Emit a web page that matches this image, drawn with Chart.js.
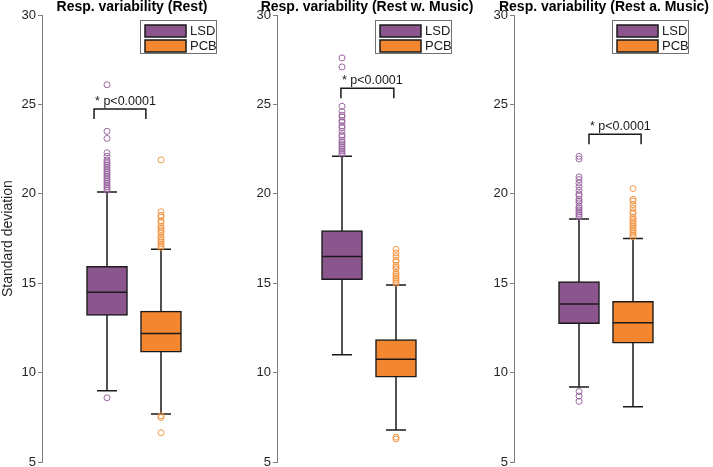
<!DOCTYPE html>
<html>
<head>
<meta charset="utf-8">
<script src="https://cdn.jsdelivr.net/npm/chart.js@4.4.0/dist/chart.umd.min.js"></script>
<style>
  html, body { margin: 0; padding: 0; background: #fff; overflow: hidden; width: 713px; height: 467px; }
  .panel { position: absolute; top: 0; width: 264px; height: 472px; }
</style>
</head>
<body>
<div class="panel" style="left:0px"><canvas id="panel0" width="264" height="472"></canvas></div>
<div class="panel" style="left:235px"><canvas id="panel1" width="264" height="472"></canvas></div>
<div class="panel" style="left:472px"><canvas id="panel2" width="264" height="472"></canvas></div>
<script>
// Groups and panel titles
const groups = ['LSD', 'PCB'];
const titles = ['Resp. variability (Rest)', 'Resp. variability (Rest w. Music)', 'Resp. variability (Rest a. Music)'];
const yTicks = [5, 10, 15, 20, 25, 30];

// Box statistics per panel: [LSD, PCB]
const q1 = [[13.2, 11.15], [15.2, 9.75], [12.75, 11.65]];
const medians = [[14.5, 12.2], [16.5, 10.75], [13.85, 12.8]];
const q3 = [[15.95, 13.45], [17.95, 11.85], [15.1, 14.0]];
const whiskerLow = [[9.0, 7.7], [11.0, 6.8], [9.2, 8.1]];
const whiskerHigh = [[20.1, 16.9], [22.1, 14.9], [18.6, 17.5]];

// Outliers per panel
const outliersLSD = [
    [26.1, 23.5, 23.1, 22.3, 22.1, 21.9, 21.8, 21.7, 21.6, 21.5, 21.4, 21.3, 21.2, 21.1, 21.0, 20.9, 20.8, 20.7, 20.6, 20.5, 20.4, 20.3, 20.2, 8.6],
    [27.6, 27.1, 24.9, 24.6, 24.4, 24.3, 24.1, 24.0, 23.8, 23.7, 23.5, 23.3, 23.2, 23.0, 22.9, 22.8, 22.7, 22.6, 22.5, 22.4, 22.3, 22.2],
    [22.1, 21.95, 20.95, 20.8, 20.6, 20.4, 20.2, 20.0, 19.9, 19.7, 19.6, 19.5, 19.3, 19.2, 19.1, 19.0, 18.9, 18.8, 18.7, 8.95, 8.7, 8.4]
];
const outliersPCB = [
    [21.9, 19.0, 18.8, 18.7, 18.5, 18.4, 18.2, 18.1, 18.0, 17.9, 17.8, 17.6, 17.5, 17.4, 17.3, 17.2, 17.1, 17.0, 7.6, 7.5, 6.65],
    [16.9, 16.7, 16.5, 16.3, 16.2, 16.0, 15.9, 15.8, 15.6, 15.5, 15.4, 15.3, 15.2, 15.1, 15.0, 6.4, 6.3],
    [20.3, 19.7, 19.6, 19.4, 19.2, 19.0, 18.9, 18.7, 18.6, 18.5, 18.4, 18.3, 18.2, 18.1, 18.0, 17.9, 17.8, 17.7, 17.6]
];

// Significance brackets
const pLabel = '* p<0.0001';
const bracketFrom = [0.76, 0.98, 1.185];
const bracketTo = [1.72, 1.96, 2.15];
const bracketY = [24.74, 25.9, 23.33];

const boxColors = ['#8b558e', '#f2872f'];
const dotColors = ['#9c68a1', '#f39848'];
const ink = '#1a1a1a';
const font = '"Liberation Sans", Arial, sans-serif';

function boxExtras(p) {
    return {
        id: 'boxExtras',
        beforeDatasetsDraw(chart) {
            const ctx = chart.ctx, x = chart.scales.x, y = chart.scales.y;
            ctx.save();
            ctx.strokeStyle = ink;
            ctx.lineWidth = 1.5;
            groups.forEach((g, k) => {
                const px = x.getPixelForValue(k + 1);
                ctx.beginPath();
                ctx.moveTo(px, y.getPixelForValue(whiskerLow[p][k]));
                ctx.lineTo(px, y.getPixelForValue(whiskerHigh[p][k]));
                [whiskerLow[p][k], whiskerHigh[p][k]].forEach(v => {
                    const py = y.getPixelForValue(v);
                    ctx.moveTo(px - 10, py);
                    ctx.lineTo(px + 10, py);
                });
                ctx.stroke();
            });
            ctx.restore();
        },
        afterDatasetsDraw(chart) {
            const ctx = chart.ctx, x = chart.scales.x, y = chart.scales.y, area = chart.chartArea;
            ctx.save();
            ctx.strokeStyle = ink;
            ctx.lineWidth = 1.5;
            // medians
            groups.forEach((g, k) => {
                const px = x.getPixelForValue(k + 1);
                const py = y.getPixelForValue(medians[p][k]);
                ctx.beginPath();
                ctx.moveTo(px - 20, py);
                ctx.lineTo(px + 20, py);
                ctx.stroke();
            });
            // bracket
            const bx1 = x.getPixelForValue(bracketFrom[p]);
            const bx2 = x.getPixelForValue(bracketTo[p]);
            const by = y.getPixelForValue(bracketY[p]);
            ctx.beginPath();
            ctx.moveTo(bx1, by + 10);
            ctx.lineTo(bx1, by);
            ctx.lineTo(bx2, by);
            ctx.lineTo(bx2, by + 10);
            ctx.stroke();
            ctx.fillStyle = ink;
            ctx.font = '12.5px ' + font;
            ctx.textAlign = 'left';
            ctx.textBaseline = 'alphabetic';
            ctx.fillText(pLabel, bx1 + 1, by - 4);
            // legend
            const lw = 76, lh = 33;
            const lx = area.right - 6 - lw, ly = area.top + 5;
            ctx.fillStyle = '#fff';
            ctx.fillRect(lx, ly, lw, lh);
            ctx.strokeStyle = '#707070';
            ctx.lineWidth = 1;
            ctx.strokeRect(lx + 0.5, ly + 0.5, lw, lh);
            groups.forEach((g, k) => {
                const sy = ly + 5 + k * 15;
                ctx.fillStyle = boxColors[k];
                ctx.fillRect(lx + 5, sy, 41, 12);
                ctx.strokeStyle = ink;
                ctx.lineWidth = 1.5;
                ctx.strokeRect(lx + 5, sy, 41, 12);
                ctx.fillStyle = ink;
                ctx.font = '13px ' + font;
                ctx.textBaseline = 'middle';
                ctx.fillText(g, lx + 50, sy + 6.5);
            });
            // panel title
            ctx.fillStyle = '#000';
            ctx.font = 'bold 14px ' + font;
            ctx.textAlign = 'center';
            ctx.textBaseline = 'middle';
            ctx.fillText(titles[p], (area.left + area.right) / 2, 7);
            ctx.restore();
        }
    };
}

function makePanel(p) {
    const datasets = [];
    groups.forEach((g, k) => {
        datasets.push({
            type: 'bar',
            label: g,
            data: [{ x: k + 1, y: [q1[p][k], q3[p][k]] }],
            backgroundColor: boxColors[k],
            borderColor: ink,
            borderWidth: 1.5,
            borderSkipped: false,
            barThickness: 41,
            grouped: false
        });
    });
    [outliersLSD[p], outliersPCB[p]].forEach((list, k) => {
        datasets.push({
            type: 'scatter',
            label: groups[k] + ' outliers',
            data: list.map(v => ({ x: k + 1, y: v })),
            pointRadius: 3,
            pointBorderWidth: 1,
            borderColor: dotColors[k],
            backgroundColor: 'rgba(0,0,0,0)'
        });
    });

    new Chart(document.getElementById('panel' + p), {
        type: 'bar',
        data: { datasets: datasets },
        plugins: [boxExtras(p)],
        options: {
            responsive: false,
            animation: false,
            clip: false,
            layout: { padding: { left: 0, right: 42, top: 15, bottom: 0 } },
            plugins: {
                legend: { display: false },
                tooltip: { enabled: false },
                title: { display: false }
            },
            scales: {
                x: { type: 'linear', min: -0.204, max: 3.13, offset: false, display: false },
                y: {
                    min: 5,
                    max: 30,
                    afterBuildTicks: s => { s.ticks = yTicks.map(v => ({ value: v })); },
                    afterFit: s => { s.width = 42; },
                    ticks: { color: '#262626', padding: 2, font: { family: font, size: 13 } },
                    grid: { drawOnChartArea: false, tickLength: 4, color: '#808080' },
                    border: { color: '#808080', width: 1 },
                    title: {
                        display: p === 0,
                        text: 'Standard deviation',
                        color: '#262626',
                        padding: 0,
                        font: { family: font, size: 14 }
                    }
                }
            }
        }
    });
}

[0, 1, 2].forEach(makePanel);
</script>
</body>
</html>
